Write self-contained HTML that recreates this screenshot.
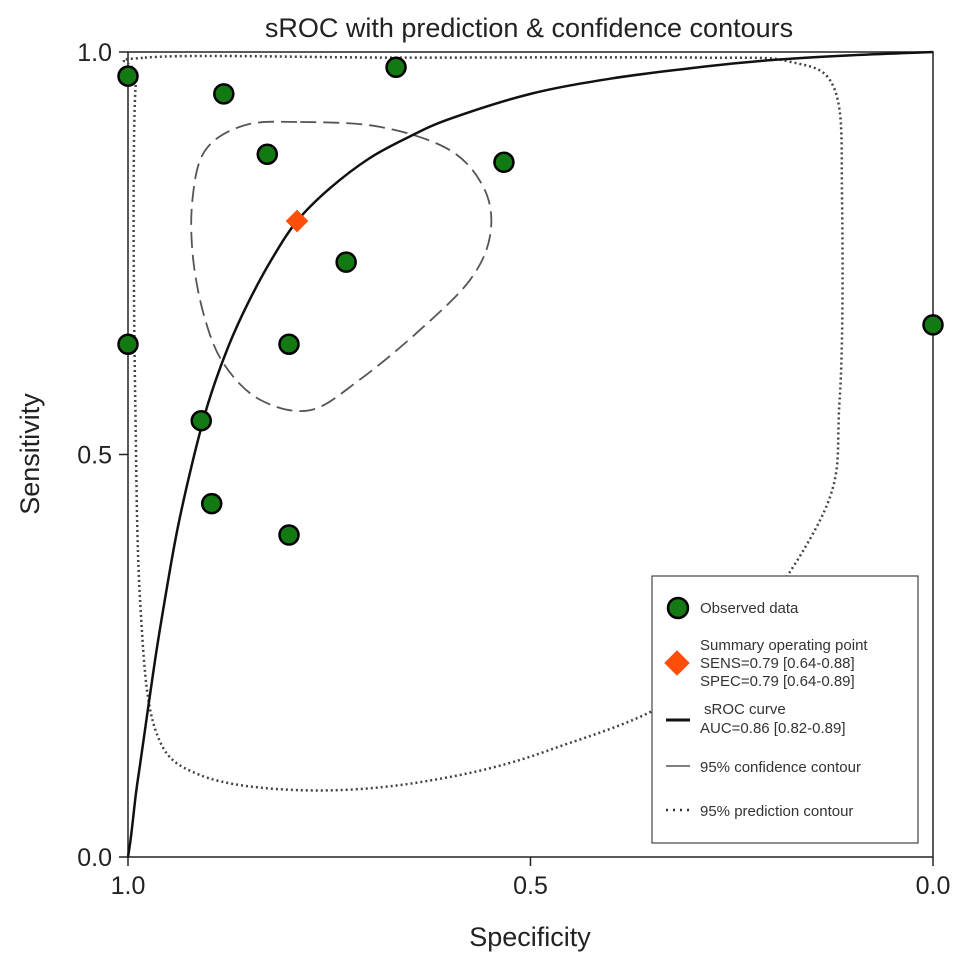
<!DOCTYPE html>
<html><head><meta charset="utf-8"><style>
body{margin:0;background:#fff}
svg text{font-family:"Liberation Sans",sans-serif}
</style></head><body>
<svg id="c" width="969" height="965" xmlns="http://www.w3.org/2000/svg">
<rect width="969" height="965" fill="#fff"/>
<text x="529" y="37" font-size="27" text-anchor="middle" fill="#222">sROC with prediction &amp; confidence contours</text>
<rect x="128" y="52" width="805" height="805" fill="none" stroke="#222" stroke-width="1.5"/>
<g id="ticks"></g>
<g id="marks"></g>
<text x="530" y="946" font-size="27" text-anchor="middle" fill="#222">Specificity</text>
<text transform="translate(39,454) rotate(-90)" font-size="27" text-anchor="middle" fill="#222">Sensitivity</text>
<g>
<rect x="652" y="576" width="266" height="267" fill="#fff" stroke="#444" stroke-width="1.2"/>
<circle cx="678" cy="608" r="10" fill="#137a13" stroke="#000" stroke-width="2.5"/>
<text x="700" y="613" font-size="15" fill="#333">Observed data</text>
<rect x="668" y="654" width="18" height="18" fill="#ff4d0a" transform="rotate(45 677 663)"/>
<text x="700" y="650" font-size="15" fill="#333">Summary operating point</text>
<text x="700" y="668" font-size="15" fill="#333">SENS=0.79 [0.64-0.88]</text>
<text x="700" y="686" font-size="15" fill="#333">SPEC=0.79 [0.64-0.89]</text>
<line x1="666" y1="720" x2="690" y2="720" stroke="#111" stroke-width="3"/>
<text x="704" y="714" font-size="15" fill="#333">sROC curve</text>
<text x="700" y="733" font-size="15" fill="#333">AUC=0.86 [0.82-0.89]</text>
<line x1="666" y1="766" x2="690" y2="766" stroke="#555" stroke-width="1.5"/>
<text x="700" y="772" font-size="15" fill="#333">95% confidence contour</text>
<line x1="666" y1="810" x2="690" y2="810" stroke="#333" stroke-width="2.5" stroke-dasharray="2,5"/>
<text x="700" y="816" font-size="15" fill="#333">95% prediction contour</text>
</g>
</svg>
<script>
const tickVals=[1.0,0.5,0.0];
const tickLabels=["1.0","0.5","0.0"];
const obsSpec=[1.0,0.881,0.667,0.827,0.533,0.729,0.8,1.0,0.0,0.909,0.896,0.8];
const obsSens=[0.97,0.948,0.981,0.873,0.863,0.739,0.637,0.637,0.661,0.542,0.439,0.4];
const summarySpec=[0.79];
const summarySens=[0.79];
const curveFpr=[0,0.003,0.006,0.01,0.015,0.02,0.03,0.04,0.06,0.08,0.1,0.125,0.15,0.18,0.21,0.25,0.3,0.35,0.4,0.5,0.6,0.7,0.8,0.9,1.0];
const curveSens=[0,0.02,0.045,0.08,0.115,0.15,0.22,0.285,0.40,0.49,0.565,0.635,0.69,0.745,0.79,0.83,0.868,0.895,0.917,0.948,0.967,0.98,0.99,0.996,1.0];
const confSpec=[0.786,0.687,0.6,0.557,0.55,0.575,0.637,0.712,0.774,0.836,0.88,0.904,0.919,0.92,0.904,0.855];
const confSens=[0.913,0.907,0.878,0.829,0.773,0.717,0.655,0.593,0.555,0.568,0.611,0.667,0.742,0.816,0.878,0.909];
const predSpec=[0.979,0.662,0.289,0.178,0.122,0.113,0.116,0.14,0.289,0.476,0.637,0.786,0.911,0.966,0.985,0.991,0.993,0.99];
const predSens=[0.993,0.993,0.993,0.988,0.953,0.816,0.568,0.419,0.22,0.133,0.093,0.083,0.102,0.158,0.319,0.568,0.816,0.965];
const NS="http://www.w3.org/2000/svg";
const X=s=>128+(1-s)*805, Y=v=>857-v*805;
function mk(tag,attrs,parent){const e=document.createElementNS(NS,tag);for(const k in attrs)e.setAttribute(k,attrs[k]);parent.appendChild(e);return e;}
const tg=document.getElementById('ticks'), mg=document.getElementById('marks');
tickVals.forEach((v,i)=>{
  const a=mk('line',{x1:X(v),y1:857,x2:X(v),y2:866,stroke:'#222','stroke-width':1.5},tg);
  
  
  const t=mk('text',{x:X(v),y:894,'font-size':25,'text-anchor':'middle',fill:'#222'},tg);t.textContent=tickLabels[i];
  
  
  const b=mk('line',{x1:119,y1:Y(v),x2:128,y2:Y(v),stroke:'#222','stroke-width':1.5},tg);
  
  
  const u=mk('text',{x:112,y:Y(v)+9,'font-size':25,'text-anchor':'end',fill:'#222'},tg);
  u.textContent=tickLabels[i];
  
  
});
function closedSmooth(px){let n=px.length,d=`M${px[0][0]},${px[0][1]}`;
  for(let i=0;i<n;i++){const p0=px[(i-1+n)%n],p1=px[i],p2=px[(i+1)%n],p3=px[(i+2)%n];
    d+=`C${p1[0]+(p2[0]-p0[0])/6},${p1[1]+(p2[1]-p0[1])/6} ${p2[0]-(p3[0]-p1[0])/6},${p2[1]-(p3[1]-p1[1])/6} ${p2[0]},${p2[1]}`;}
  return d+'Z';}
function openSmooth(px){let n=px.length,d=`M${px[0][0]},${px[0][1]}`;
  for(let i=0;i<n-1;i++){const p0=px[Math.max(i-1,0)],p1=px[i],p2=px[i+1],p3=px[Math.min(i+2,n-1)];
    d+=`C${p1[0]+(p2[0]-p0[0])/6},${p1[1]+(p2[1]-p0[1])/6} ${p2[0]-(p3[0]-p1[0])/6},${p2[1]-(p3[1]-p1[1])/6} ${p2[0]},${p2[1]}`;}
  return d;}
const pred=mk('path',{d:closedSmooth(predSpec.map((s,i)=>[X(s),Y(predSens[i])])),fill:'none',stroke:'#444','stroke-width':2.5,'stroke-dasharray':'2,3'},mg);


const conf=mk('path',{d:closedSmooth(confSpec.map((s,i)=>[X(s),Y(confSens[i])])),fill:'none',stroke:'#555','stroke-width':1.8,'stroke-dasharray':'16,7'},mg);


const cur=mk('path',{d:openSmooth(curveFpr.map((f,i)=>[X(1-f),Y(curveSens[i])])),fill:'none',stroke:'#111','stroke-width':2.5},mg);


obsSpec.forEach((s,i)=>{
  const c=mk('circle',{cx:X(s),cy:Y(obsSens[i]),r:9.5,fill:'#137a13',stroke:'#000','stroke-width':2.5},mg);
  
  
});
summarySpec.forEach((s,i)=>{
  const cx=X(s),cy=Y(summarySens[i]);
  const r=mk('rect',{x:cx-8,y:cy-8,width:16,height:16,fill:'#ff4d0a',transform:`rotate(45 ${cx} ${cy})`},mg);
  
  
});
</script>
</body></html>
